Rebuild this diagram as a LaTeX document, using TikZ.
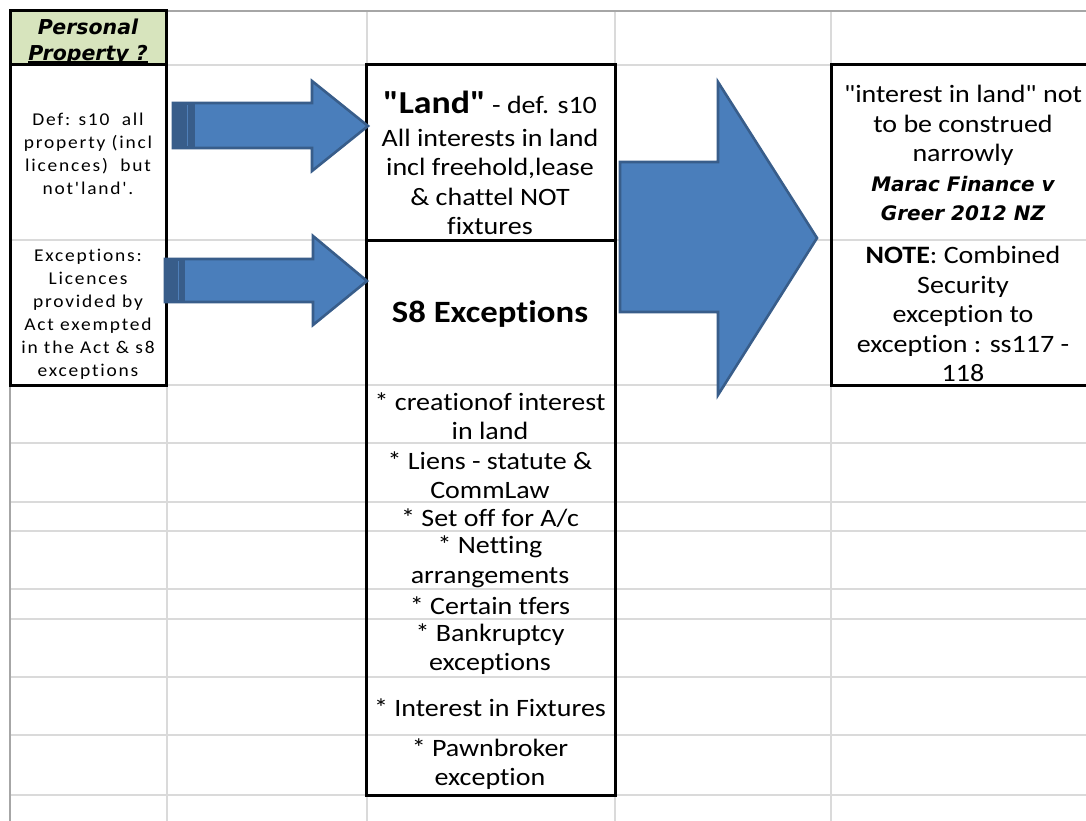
\documentclass[tikz,border=0pt]{standalone}
\usepackage{fontspec}
\newfontfamily\cb{Carlito}[FakeStretch=1.12,Ligatures=CommonOff]
\newfontfamily\lsp{Carlito}[LetterSpace=10,FakeStretch=1.08,Ligatures=CommonOff]
\newfontfamily\dv{DejaVu Sans}
\newcommand\mybi{\dv\bfseries\itshape\fontsize{20}{29.5}\selectfont}
\definecolor{gridc}{HTML}{DADADA}
\definecolor{edgec}{HTML}{A6A6A6}
\definecolor{hdrc}{HTML}{D7E4BD}
\definecolor{arrf}{HTML}{4A7EBB}
\definecolor{arrd}{HTML}{385D8A}
\definecolor{arrl}{HTML}{4F7FB8}
\tikzset{
  gridline/.style={draw=gridc, line width=1.6pt},
  edgeline/.style={draw=edgec, line width=1.6pt},
  boxline/.style={draw=black, line width=3pt},
  arrowshape/.style={fill=arrf, draw=arrd, line width=2.6pt, line join=miter},
  darkband/.style={fill=arrd, draw=none},
  lightline/.style={draw=arrl, line width=1pt},
  txt/.style={align=center, inner sep=0pt, font=\cb\fontsize{25}{29.5}\selectfont},
  ltxt/.style={align=center, inner sep=0pt, font=\lsp\fontsize{18}{23}\selectfont},
  htxt/.style={align=center, inner sep=0pt, font=\dv\bfseries\itshape\fontsize{20.5}{28}\selectfont},
}
\begin{document}
\begin{tikzpicture}[x=1pt,y=-1pt]
\useasboundingbox (0,0) rectangle (1086,821);
\clip (0,0) rectangle (1086,821);
\fill[white] (0,0) rectangle (1086,821);
% spreadsheet grid
\foreach \y in {65,240,385,443,502,531,589,619,677,735,795}
  \draw[gridline] (10,\y) -- (1090,\y);
\foreach \x in {167,367,615,831}
  \draw[gridline] (\x,11) -- (\x,825);
\draw[edgeline] (10,11) -- (1090,11);
\draw[edgeline] (10,11) -- (10,825);
% header cell
\fill[hdrc] (10,11) rectangle (166,65);
\begin{scope}
  \clip (10,11) rectangle (166,65);
  \node[htxt] (hdr1) at (88,27) {Personal};
  \node[htxt] (hdr2) at (88,55.5) {Property ?};
  \draw[line width=1.4pt] ([yshift=-1.2pt]hdr2.base west) -- ([yshift=-1.2pt]hdr2.base east);
\end{scope}
\draw[boxline] (10,11) rectangle (166,65);
% left box
\draw[boxline] (10,65) rectangle (166,385);
\node[ltxt] (def) at (88,154) {Def: s10\ \ all\\property (incl\\licences)\ \ but\\not'land'.};
\node[ltxt] (exc) at (88,314) {Exceptions:\\Licences\\provided by\\Act exempted\\in the Act \& s8\\exceptions};
% middle box
\draw[boxline] (366,65) rectangle (615,795);
\draw[boxline] (366,240) -- (615,240);
\node[txt] (land) at (490,163) {{\fontsize{32}{32}\selectfont\bfseries "Land"} - def. s10\\[3pt]All interests in land\\incl freehold,lease\\\& chattel NOT\\fixtures};
\node[txt, font=\cb\fontsize{31}{36}\selectfont\bfseries] (s8) at (490,314) {S8 Exceptions};
\node[txt] (i1) at (490,416) {* creationof interest\\in land};
\node[txt] (i2) at (490,475) {* Liens - statute \&\\CommLaw};
\node[txt] (i3) at (490,518) {* Set off for A/c};
\node[txt] (i4) at (490,562) {* Netting\\arrangements};
\node[txt] (i5) at (490,606) {* Certain tfers};
\node[txt] (i6) at (490,649) {* Bankruptcy\\exceptions};
\node[txt] (i7) at (490,708) {* Interest in Fixtures};
\node[txt] (i8) at (490,764) {* Pawnbroker\\exception};
% right box
\draw[boxline] (831,65) rectangle (1100,385);
\node[txt] (interest) at (963,153) {"interest in land" not\\to be construed\\narrowly\\{\mybi Marac Finance v}\\{\mybi Greer 2012 NZ}};
\node[txt] (note) at (963,314) {\textbf{NOTE}: Combined\\Security\\exception to\\exception : ss117 -\\118};
% block arrows
\draw[arrowshape] (173,103) -- (312,103) -- (312,81) -- (368,126) -- (312,171) -- (312,148) -- (173,148) -- cycle;
\fill[darkband] (173,104) rectangle (195,147);
\draw[lightline] (187,105) -- (187,146);
\draw[arrowshape] (165,259) -- (313,259) -- (313,236) -- (367,281) -- (313,325) -- (313,302) -- (165,302) -- cycle;
\fill[darkband] (165,260) rectangle (185,301);
\draw[lightline] (178,261) -- (178,300);
\draw[arrowshape] (620,162) -- (718,162) -- (718,82) -- (817,238) -- (718,395) -- (718,312) -- (620,312) -- cycle;
\end{tikzpicture}
\end{document}
